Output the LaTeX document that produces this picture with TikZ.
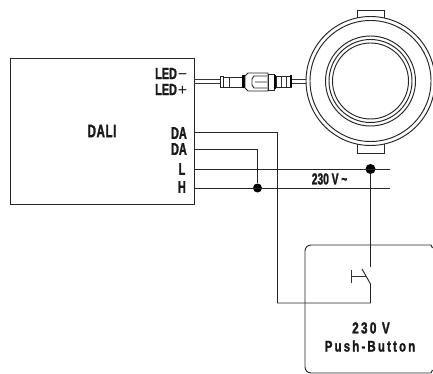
\documentclass[tikz,border=0pt]{standalone}
\usepackage{fontspec}
\newfontfamily\lab[FakeStretch=0.64,FakeBold=1.5]{Liberation Sans Bold}
\newfontfamily\labl[FakeStretch=0.68,FakeBold=1.5]{Liberation Sans Bold}
\newfontfamily\labw[FakeStretch=0.74,FakeBold=1.5,LetterSpace=14]{Liberation Sans Bold}
\newfontfamily\labs{Liberation Sans}
\tikzset{
 wire/.style={draw=black!85,line width=0.95pt},
 thin wire/.style={draw=black!80,line width=0.75pt},
 lbl/.style={font=\lab\fontsize{17}{17}\selectfont,text=black!90,inner sep=0pt},
 term/.style={lbl,anchor=east},
 ledterm/.style={term,font=\labl\fontsize{16}{16}\selectfont},
 junction/.style={circle,fill=black,draw=none,inner sep=0pt}
}
\begin{document}
\begin{tikzpicture}[x=1pt,y=-1pt]
\useasboundingbox (0,0) rectangle (433,374);
% DALI box
\node[draw=black!85,line width=0.95pt,minimum width=184pt,minimum height=146pt,inner sep=0pt,anchor=north west] (dali) at (9.5,58) {};
\node[lbl,font=\lab\fontsize{18}{18}\selectfont] (dalitxt) at (102,131) {D\kern0.6pt A\kern0.6pt L\kern0.6pt I};
\node[ledterm] (ledm) at (187.5,73.5) {LED{\labs\kern1pt−}};
\node[ledterm] (ledp) at (187.5,89.5) {LED{\labs\kern1pt+}};
\node[term] (da1) at (187,133) {DA};
\node[term] (da2) at (187,149) {DA};
\node[term] (l) at (185.5,169) {L};
\node[term] (n) at (186,187) {H};
% coordinates
\coordinate (dao) at (194,132.5);
\coordinate (dbo) at (194,149);
\coordinate (lo) at (194,169);
\coordinate (no) at (194,188);
\coordinate (le) at (390,169);
\coordinate (ne) at (390,188);
\node[junction,minimum size=9pt] (j1) at (257.5,188) {};
\node[junction,minimum size=10pt] (j2) at (370.5,169) {};
\node[lbl,font=\lab\fontsize{16}{16}\selectfont] (v) at (329.5,179) {230 V\,\char"007E};
\draw[wire] (lo) -- (le);
\draw[wire] (no) -- (ne);
\draw[wire] (dbo) -| (j1);
\coordinate (c1) at (277.5,303);
\coordinate (c2) at (370.5,303);
\coordinate (c3) at (370.5,284);
\coordinate (c4) at (362,269);
\coordinate (c5) at (370.5,267);
\draw[wire] (dao) -| (c1) -- (c2) -- (c3) -- (c4);
\draw[wire] (j2) -- (c5);
\coordinate (h1) at (351,276);
\coordinate (h2) at (366,276);
\draw[thin wire] (h1) -- (h2) (351,270) -- (351,283);
% push button
\draw[wire,rounded corners=6pt] (305,300) -- (305,245) -- (431,245);
\draw[wire,rounded corners=6pt] (305,300) -- (305,373) -- (431,373);
\draw[wire] (431,245) -- (432.5,248) (431,373) -- (432.5,370);
\node[lbl,font=\labw\fontsize{16}{16}\selectfont] (pb1) at (371,328) {230 V};
\node[lbl,font=\labw\fontsize{15.5}{15.5}\selectfont] (pb2) at (370,346) {Push-Button};
% lamp
\coordinate (cc) at (370.5,81);
\draw[wire,fill=white] (357.5,20) -- (357.5,10) -- (384,10) -- (384,20);
\draw[wire,fill=white] (357.5,142) -- (357.5,153) -- (384,153) -- (384,142);
\draw[wire,fill=white] (cc) circle[radius=64.5];
\draw[wire] (cc) circle[radius=60.5];
\draw[wire] (cc) circle[radius=45];
\draw[wire] (cc) circle[radius=41.5];
\draw[wire] (cc) circle[radius=38];
% cable
\draw[thin wire] (194,79) -- (221,79) (194,83) -- (221,83);
\draw[thin wire] (291,79) -- (306,79) (291,83) -- (306,83);
% connector
\draw[wire,fill=white] (220,76) rectangle (223,87);
\draw[wire,fill=white] (223,77) rectangle (242,87);
\draw[thin wire] (229,77) -- (229,87);
\draw[line width=3pt] (243.5,75) -- (243.5,88);
\draw[wire,fill=white] (245,76) -- (248,73) -- (268,73) -- (268,91) -- (248,91) -- (245,88) -- cycle;
\draw[wire] (267,76) -- (254,76) -- (252,79) -- (252,85) -- (254,88) -- (267,88) (255,82) -- (267,82);
\draw[wire,fill=white] (268,74) rectangle (274,90);
\draw[line width=2pt] (275,75) -- (275,89);
\draw[wire,fill=white] (276,76) rectangle (291,87);
\draw[thin wire] (281,76) -- (281,87) (286,76) -- (286,87);
\draw[line width=1.5pt] (291,75.5) -- (291,87.5);
\end{tikzpicture}
\end{document}
